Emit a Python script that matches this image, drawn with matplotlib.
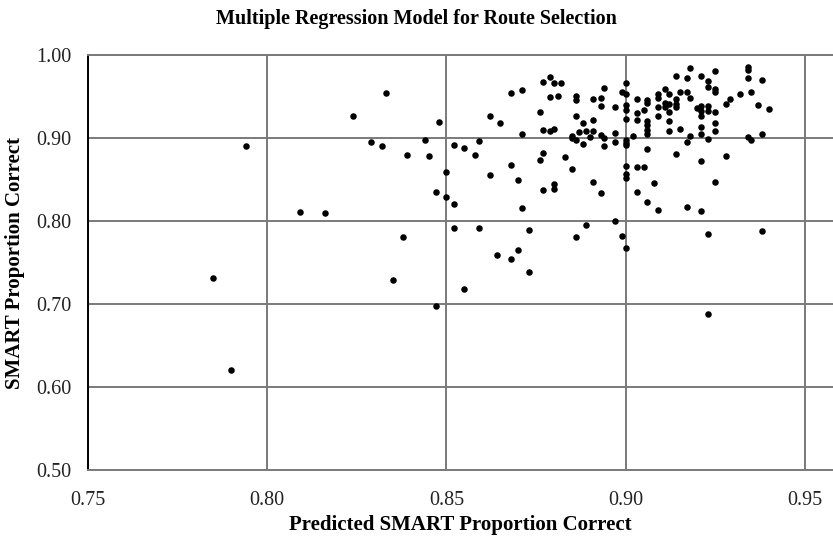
import matplotlib
matplotlib.use("Agg")
import matplotlib.pyplot as plt

# predicted vs observed proportion correct for each route
predicted = [
    0.785, 0.790, 0.794, 0.809, 0.816, 0.824, 0.829, 0.832, 0.833, 0.835,
    0.838, 0.839, 0.844, 0.845, 0.847, 0.847, 0.848, 0.850, 0.850, 0.852,
    0.852, 0.852, 0.855, 0.855, 0.858, 0.859, 0.859, 0.862, 0.862, 0.864,
    0.865, 0.868, 0.868, 0.868, 0.870, 0.870, 0.871, 0.871, 0.871, 0.873,
    0.873, 0.876, 0.876, 0.877, 0.877, 0.877, 0.877, 0.879, 0.879, 0.879,
    0.880, 0.881, 0.880, 0.880, 0.880, 0.882, 0.883, 0.885, 0.885, 0.885,
    0.886, 0.886, 0.886, 0.887, 0.886, 0.886, 0.888, 0.888, 0.889, 0.890,
    0.889, 0.891, 0.891, 0.891, 0.891, 0.893, 0.893, 0.893, 0.893, 0.894,
    0.894, 0.894, 0.897, 0.897, 0.897, 0.897, 0.899, 0.899, 0.900, 0.900,
    0.900, 0.900, 0.900, 0.900, 0.900, 0.900, 0.900, 0.900, 0.900, 0.900,
    0.902, 0.903, 0.903, 0.903, 0.903, 0.903, 0.905, 0.905, 0.906, 0.906,
    0.906, 0.906, 0.906, 0.906, 0.906, 0.906, 0.908, 0.909, 0.909, 0.909,
    0.909, 0.909, 0.911, 0.911, 0.911, 0.912, 0.912, 0.912, 0.912, 0.912,
    0.914, 0.914, 0.914, 0.914, 0.914, 0.915, 0.915, 0.917, 0.917, 0.917,
    0.917, 0.918, 0.918, 0.918, 0.920, 0.921, 0.921, 0.921, 0.921, 0.921,
    0.921, 0.921, 0.921, 0.923, 0.923, 0.923, 0.923, 0.923, 0.923, 0.923,
    0.925, 0.925, 0.925, 0.925, 0.925, 0.925, 0.925, 0.928, 0.929, 0.928,
    0.932, 0.934, 0.934, 0.934, 0.934, 0.935, 0.935, 0.937, 0.938, 0.938,
    0.938, 0.940,
]
smart = [
    0.731, 0.621, 0.890, 0.811, 0.810, 0.927, 0.895, 0.890, 0.954, 0.729,
    0.781, 0.879, 0.897, 0.878, 0.697, 0.835, 0.919, 0.829, 0.859, 0.821,
    0.891, 0.792, 0.888, 0.718, 0.880, 0.896, 0.792, 0.927, 0.855, 0.759,
    0.918, 0.954, 0.868, 0.754, 0.850, 0.765, 0.958, 0.905, 0.816, 0.789,
    0.738, 0.931, 0.874, 0.967, 0.910, 0.882, 0.837, 0.973, 0.949, 0.908,
    0.966, 0.950, 0.911, 0.845, 0.838, 0.966, 0.877, 0.902, 0.863, 0.900,
    0.951, 0.946, 0.926, 0.907, 0.897, 0.781, 0.918, 0.893, 0.909, 0.901,
    0.795, 0.947, 0.922, 0.908, 0.847, 0.948, 0.938, 0.904, 0.834, 0.960,
    0.900, 0.890, 0.937, 0.906, 0.895, 0.800, 0.955, 0.782, 0.966, 0.953,
    0.940, 0.934, 0.923, 0.898, 0.894, 0.891, 0.866, 0.857, 0.852, 0.768,
    0.902, 0.947, 0.930, 0.922, 0.865, 0.835, 0.934, 0.865, 0.946, 0.942,
    0.921, 0.916, 0.910, 0.905, 0.887, 0.823, 0.846, 0.953, 0.948, 0.937,
    0.926, 0.813, 0.959, 0.942, 0.937, 0.953, 0.941, 0.931, 0.920, 0.908,
    0.947, 0.941, 0.937, 0.975, 0.881, 0.956, 0.911, 0.956, 0.972, 0.895,
    0.817, 0.984, 0.948, 0.903, 0.936, 0.939, 0.933, 0.926, 0.913, 0.905,
    0.975, 0.872, 0.812, 0.969, 0.962, 0.938, 0.932, 0.899, 0.784, 0.688,
    0.981, 0.959, 0.955, 0.931, 0.918, 0.908, 0.847, 0.941, 0.947, 0.878,
    0.953, 0.985, 0.982, 0.972, 0.901, 0.955, 0.897, 0.940, 0.970, 0.905,
    0.788, 0.935,
]

x_ticks = [0.75, 0.80, 0.85, 0.90, 0.95]
y_ticks = [0.50, 0.60, 0.70, 0.80, 0.90, 1.00]

plt.rcParams['font.family'] = ['Liberation Serif', 'DejaVu Serif']

fig = plt.figure(figsize=(8.33, 5.36), dpi=100)
ax = fig.add_axes([0.1056, 0.1231, 0.8944, 0.7743])

grid_color = '#7a7a7a'
ax.scatter(predicted, smart, s=22, color='black', zorder=3, linewidths=0)

ax.set_xlim(0.75, 0.9578)
ax.set_ylim(0.50, 1.00)
ax.set_xticks(x_ticks)
ax.set_yticks(y_ticks)
ax.set_xticklabels([f'{v:.2f}' for v in x_ticks])
ax.set_yticklabels([f'{v:.2f}' for v in y_ticks])
ax.tick_params(axis='both', length=0, labelsize=14.5, colors='#222222')
ax.tick_params(axis='y', pad=12)
ax.tick_params(axis='x', pad=15)

ax.grid(True, color=grid_color, linewidth=1.4, zorder=1)
ax.set_axisbelow(True)
for side in ['top', 'bottom']:
    ax.spines[side].set_color(grid_color)
    ax.spines[side].set_linewidth(1.4)
ax.spines['right'].set_visible(False)
ax.spines['left'].set_color('black')
ax.spines['left'].set_linewidth(1.4)

# title sits over the middle of the whole figure, not the axes
fig.text(0.5, 0.965, 'Multiple Regression Model for Route Selection',
         ha='center', va='center', fontsize=14.5, fontweight='bold')
ax.set_xlabel('Predicted SMART Proportion Correct', fontsize=15,
              fontweight='bold', labelpad=4)
ax.set_ylabel('SMART Proportion Correct', fontsize=15,
              fontweight='bold', labelpad=8)

fig.savefig('out.png', dpi=100)
